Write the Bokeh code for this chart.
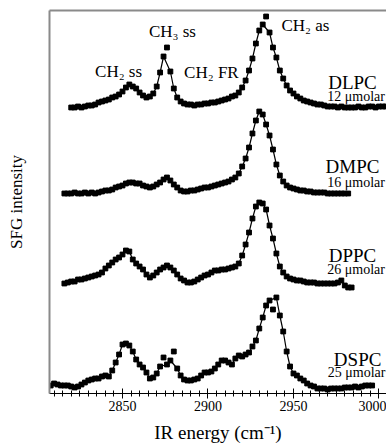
from bokeh.plotting import figure
from bokeh.models import FixedTicker, LinearAxis, Range1d
from bokeh.core.properties import value
from bokeh.embed import file_html
from bokeh.resources import INLINE

FONT = "Liberation Serif"

# IR energy sampling (cm^-1), 2 cm^-1 steps
dlpc_x = list(range(2820, 3005, 2))
dlpc_y = [286, 286, 287, 286, 287, 288, 288, 289, 291, 292,
          293, 294, 296, 297, 299, 302, 306, 309, 307, 305,
          301, 298, 296, 297, 300, 307, 321, 337, 346, 322,
          305, 296, 292, 290, 289, 289, 288, 289, 289, 290,
          290, 291, 291, 292, 293, 294, 295, 297, 298, 301,
          306, 313, 323, 335, 350, 363, 369, 377, 361, 346,
          336, 323, 315, 308, 303, 300, 297, 295, 293, 292,
          291, 290, 289, 289, 288, 287, 287, 287, 286, 287,
          286, 286, 286, 286, 287, 286, 286, 287, 287, 286,
          287, 287, 287]
dlpc_outliers = [2876, 2934]

dmpc_x = list(range(2816, 2983, 2))
dmpc_y = [200, 200, 200, 201, 200, 200, 201, 200, 201, 200,
          201, 202, 203, 203, 204, 206, 207, 208, 210, 211,
          211, 210, 210, 208, 207, 206, 207, 209, 211, 214,
          216, 213, 209, 206, 203, 202, 202, 203, 203, 204,
          205, 206, 206, 207, 208, 209, 210, 211, 212, 214,
          216, 220, 227, 235, 246, 260, 273, 282, 279, 269,
          258, 244, 229, 218, 212, 208, 206, 205, 204, 203,
          203, 202, 202, 201, 201, 201, 201, 200, 200, 200,
          200, 200, 200, 200]
dmpc_outliers = []

dppc_x = list(range(2816, 2985, 2))
dppc_y = [110, 111, 112, 112, 114, 114, 115, 116, 117, 118,
          119, 121, 125, 128, 131, 134, 136, 139, 143, 142,
          134, 130, 127, 124, 119, 116, 118, 121, 124, 126,
          128, 126, 123, 119, 115, 113, 111, 111, 112, 114,
          116, 118, 119, 121, 123, 123, 124, 124, 125, 126,
          127, 130, 138, 149, 161, 175, 187, 191, 190, 184,
          168, 155, 140, 127, 121, 117, 115, 114, 113, 113,
          112, 111, 111, 111, 110, 110, 110, 110, 110, 110,
          111, 113, 108, 106, 106]
dppc_outliers = []

dspc_x = list(range(2806, 2997, 2))
dspc_y = [7, 8, 10, 9, 8, 8, 8, 7, 6, 7,
          9, 11, 13, 14, 15, 15, 17, 18, 17, 23,
          31, 39, 49, 50, 48, 42, 34, 29, 26, 21,
          15, 16, 20, 27, 36, 29, 33, 42, 25, 18,
          14, 13, 13, 14, 15, 18, 21, 21, 22, 25,
          29, 33, 33, 31, 29, 35, 38, 37, 39, 41,
          47, 53, 65, 76, 88, 93, 84, 96, 78, 62,
          42, 27, 20, 18, 15, 13, 10, 8, 7, 5,
          5, 5, 4, 5, 5, 5, 5, 6, 6, 6,
          7, 6, 7, 8, 8, 8]
dspc_outliers = [2874, 2880, 2938]

series = [
    (dlpc_x, dlpc_y, dlpc_outliers),
    (dmpc_x, dmpc_y, dmpc_outliers),
    (dppc_x, dppc_y, dppc_outliers),
    (dspc_x, dspc_y, dspc_outliers),
]

# labels
peak_labels = ["CH\u2082 ss", "CH\u2083 ss", "CH\u2082 FR", "CH\u2082 as"]
peak_label_x = [2847.7, 2879.2, 2902.0, 2957.0]
peak_label_y = [322, 362, 321, 368]

names = ["DLPC", "DMPC", "DPPC", "DSPC"]
name_x = [2984.5, 2984.5, 2984.5, 2987.5]
name_y = [311, 227, 138, 34]

concs = ["12 \u03bcmolar", "16 \u03bcmolar", "26 \u03bcmolar", "25 \u03bcmolar"]
conc_x = [3003.5, 3003.5, 3003.5, 3003.8]
conc_y = [297, 211, 124, 21]

p = figure(frame_width=337, frame_height=383,
           x_range=Range1d(2807.3, 3004.4), y_range=Range1d(0, 383),
           output_backend="svg", toolbar_location=None,
           min_border_left=49, min_border_right=0,
           min_border_top=10, min_border_bottom=52)
p.grid.visible = False
p.outline_line_color = None
p.background_fill_color = "white"
p.border_fill_color = "white"

# bottom axis
xa = p.xaxis[0]
xa.ticker = FixedTicker(ticks=[2850, 2900, 2950, 3000],
                        minor_ticks=list(range(2810, 3005, 5)))
xa.axis_line_color = "black"
xa.major_tick_line_color = "black"
xa.minor_tick_line_color = "black"
xa.major_tick_in = 5
xa.major_tick_out = 5
xa.minor_tick_in = 3
xa.minor_tick_out = 3
xa.major_label_standoff = 2
xa.major_label_text_font = FONT
xa.major_label_text_font_size = "14px"
xa.major_label_text_color = "black"
xa.axis_label = "IR energy (cm\u207b\u00b9)"
xa.axis_label_text_font = FONT
xa.axis_label_text_font_size = "19px"
xa.axis_label_text_font_style = "normal"
xa.axis_label_text_color = "black"
xa.axis_label_standoff = 8

# left axis
ya = p.yaxis[0]
ya.ticker = FixedTicker(ticks=[])
ya.axis_line_color = "#8a8a8a"
ya.axis_line_width = 2
ya.major_tick_line_color = None
ya.minor_tick_line_color = None
ya.major_tick_out = 0
ya.major_tick_in = 0
ya.major_label_standoff = 0
ya.major_label_text_font_size = "0px"
ya.axis_label = "SFG intensity"
ya.axis_label_text_font = FONT
ya.axis_label_text_font_size = "17px"
ya.axis_label_text_font_style = "normal"
ya.axis_label_text_color = "black"
ya.axis_label_standoff = 24

# top border
top = LinearAxis(ticker=FixedTicker(ticks=[]), axis_line_color="#8a8a8a",
                 axis_line_width=2, major_tick_line_color=None,
                 minor_tick_line_color=None, major_tick_in=0, major_tick_out=0,
                 minor_tick_in=0, minor_tick_out=0, major_label_standoff=0,
                 major_label_text_font_size="0px")
p.add_layout(top, "above")

for xs, ys, outl in series:
    fx = [x for x, y in zip(xs, ys) if x not in outl]
    fy = [y for x, y in zip(xs, ys) if x not in outl]
    p.line(fx, fy, line_color="black", line_width=1.2)
    p.scatter(xs, ys, marker="square", size=4.8, fill_color="black",
              line_color="black")

p.text(x=peak_label_x, y=peak_label_y, text=peak_labels,
       text_font=value(FONT), text_font_size="17px", text_color="black",
       text_align="center", text_baseline="middle")
p.text(x=name_x, y=name_y, text=names,
       text_font=value(FONT), text_font_size="19px", text_color="black",
       text_align="center", text_baseline="middle")
p.text(x=conc_x, y=conc_y, text=concs,
       text_font=value(FONT), text_font_size="14px", text_color="black",
       text_align="right", text_baseline="middle")

open("out.html", "w").write(file_html(p, INLINE))
